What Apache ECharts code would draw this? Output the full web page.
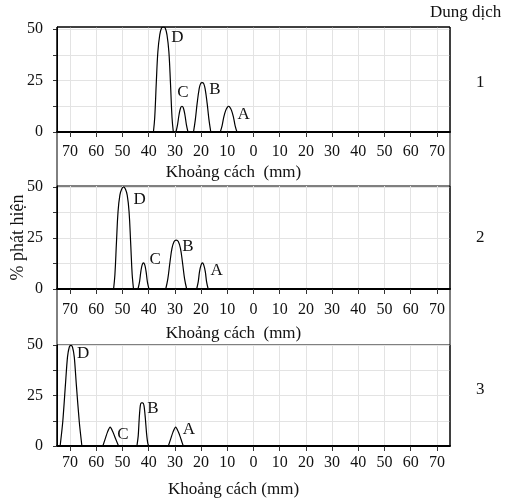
<!DOCTYPE html>
<html><head><meta charset="utf-8">
<script src="https://cdn.jsdelivr.net/npm/echarts@6/dist/echarts.min.js"></script>
<style>html,body{margin:0;padding:0;background:#fff}#c{width:515px;height:502px}</style>
</head><body><div id="c"></div>
<script>
// ---- data (distance in mm on the left side of origin, % detected) ----
const solutions = ['1', '2', '3'];
const legendTitle = 'Dung dịch';
const peakNames = ['A', 'B', 'C', 'D'];
const xTickValues = [-70, -60, -50, -40, -30, -20, -10, 0, 10, 20, 30, 40, 50, 60, 70];
const yTickValues = [0, 12.5, 25, 37.5, 50];
const yLabelValues = [0, 25, 50];
const xAxisTitles = ['Khoảng cách  (mm)', 'Khoảng cách  (mm)', 'Khoảng cách (mm)'];
const yAxisTitle = '% phát hiện';

// Solution 1
const p1A = [[12.7,0],[12.0,3],[11.3,7.5],[10.6,10.5],[10.0,12],[9.5,12.5],[9.0,12],[8.4,10.5],[7.7,7.5],[7.0,3],[6.3,0]];
const p1B = [[22.9,0],[22.2,6],[21.5,14],[20.8,20.5],[20.2,23.5],[19.6,24],[19.0,23.5],[18.4,20.5],[17.7,14],[17.0,6],[16.3,0]];
const p1C = [[29.6,0],[29.0,3.5],[28.4,8.5],[27.8,11.8],[27.3,12.5],[26.8,11.8],[26.2,8.5],[25.6,3.5],[25.0,0]];
const p1D = [[38.2,0],[37.7,7],[37.1,24],[36.5,39],[35.8,47],[35.1,50.5],[34.4,51],[33.7,50.5],[33.0,47],[32.3,39],[31.7,24],[31.1,7],[30.6,0]];
// Solution 2
const p2A = [[21.7,0],[21.1,3.5],[20.6,8.5],[20.0,11.8],[19.5,12.8],[19.0,11.8],[18.4,8.5],[17.9,3.5],[17.3,0]];
const p2B = [[33.5,0],[32.7,5],[31.9,13],[31.1,20],[30.3,23.3],[29.5,24],[28.7,23.3],[27.9,20],[27.1,13],[26.3,5],[25.5,0]];
const p2C = [[44.1,0],[43.5,3.5],[43.0,8.5],[42.5,11.8],[42.0,12.8],[41.5,11.8],[41.0,8.5],[40.5,3.5],[39.9,0]];
const p2D = [[53.4,0],[52.9,7],[52.3,23],[51.7,38],[51.0,46],[50.3,49],[49.6,50],[48.9,49],[48.2,46],[47.5,38],[46.9,23],[46.3,7],[45.8,0]];
// Solution 3
const p3A = [[32.5,0],[31.6,3.5],[30.7,7],[29.7,9.3],[28.7,7],[27.7,3.5],[26.8,0]];
const p3B = [[44.5,0],[44.0,5],[43.6,14],[43.2,20],[42.8,21.3],[42.3,21.3],[41.8,20],[41.3,14],[40.8,6],[40.3,1],[39.9,0]];
const p3C = [[57.5,0],[56.6,3.5],[55.7,7],[54.7,9.3],[53.7,7],[52.6,3.5],[51.5,0]];
const p3D = [[73.8,0],[72.8,12],[71.8,30],[71.0,44],[70.3,49],[69.7,49.8],[69.1,49],[68.4,44],[67.6,30],[66.5,12],[65.5,0]];

const panelPeaks = [[p1A, p1B, p1C, p1D], [p2A, p2B, p2C, p2D], [p3A, p3B, p3C, p3D]];

// ---- layout / style ----
const FONT = 'Liberation Serif';
const L = 57, R = 65;
const layout = [
  {top: 27, height: 105, yMax: 51, labelMargin: 12, nameGap: 32, smooth: 0.4, stripY: 83},
  {top: 186, height: 103, yMax: 50.5, labelMargin: 13, nameGap: 36, smooth: 0.4, stripY: 238},
  {top: 345, height: 101, yMax: 50, labelMargin: 9, nameGap: 35, smooth: 0.25, stripY: 390}
];
const peakLabelStyle = [
  [{p:'right', o:[4,8]}, {p:'right', o:[2,7]}, {p:'top', o:[1,0]}, {p:'right', o:[3,11]}],
  [{p:'right', o:[3,8]}, {p:'right', o:[1,6]}, {p:'right', o:[1,-3]}, {p:'right', o:[5,13]}],
  [{p:'right', o:[2,2]}, {p:'right', o:[1,6]}, {p:'right', o:[2,7]}, {p:'right', o:[1,8]}]
];

const grid = [], xAxis = [], yAxis = [], series = [], graphic = [];
layout.forEach((ly, i) => {
  grid.push({left: L, right: R, top: ly.top, height: ly.height, show: true,
    outerBoundsMode: 'none', containLabel: false,
    borderColor: '#000', borderWidth: 1, backgroundColor: 'transparent'});
  xAxis.push({
    type: 'value', gridIndex: i, min: -75, max: 75, inverse: true,
    name: xAxisTitles[i], nameLocation: 'middle', nameGap: ly.nameGap, nameMoveOverlap: false,
    nameTextStyle: {fontFamily: FONT, fontSize: 17, color: '#111', padding: [0, 40, 0, 0]},
    axisLine: {show: true, onZero: false, lineStyle: {color: '#000', width: 2}},
    axisTick: {show: true, customValues: xTickValues, length: 5, lineStyle: {color: '#333'}},
    axisLabel: {customValues: xTickValues, formatter: v => String(Math.abs(v)),
      fontFamily: FONT, fontSize: 16, color: '#111', margin: ly.labelMargin},
    splitLine: {show: true, lineStyle: {color: '#e3e3e3', width: 1}}
  });
  yAxis.push({
    type: 'value', gridIndex: i, min: 0, max: ly.yMax,
    name: i === 1 ? yAxisTitle : '', nameLocation: 'middle', nameGap: 30, nameMoveOverlap: false,
    nameTextStyle: {fontFamily: FONT, fontSize: 18, color: '#111'},
    axisLine: {show: true, onZero: false, lineStyle: {color: '#000', width: 1}},
    axisTick: {show: true, customValues: yTickValues, length: 4, lineStyle: {color: '#333'}},
    axisLabel: {customValues: yLabelValues, fontFamily: FONT, fontSize: 16, color: '#111', margin: 14},
    splitLine: {show: true, lineStyle: {color: '#e3e3e3', width: 1}}
  });
  panelPeaks[i].forEach((pts, k) => {
    let top = 0;
    pts.forEach((p, j) => { if (p[1] > pts[top][1]) top = j; });
    const st = peakLabelStyle[i][k];
    series.push({
      type: 'line', xAxisIndex: i, yAxisIndex: i, smooth: ly.smooth,
      symbol: 'circle', symbolSize: 0, showSymbol: true, silent: true,
      lineStyle: {color: '#000', width: 1.2}, itemStyle: {color: '#000'},
      data: pts.map((p, j) => j === top ? {value: p, label: {show: true, formatter: peakNames[k],
        position: st.p, offset: st.o, fontFamily: FONT, fontSize: 17, color: '#111'}} : p)
    });
  });
  graphic.push({type: 'text', left: 476, top: ly.stripY - 9,
    style: {text: solutions[i], font: '17px "' + FONT + '"', fill: '#111'}});
});
graphic.push({type: 'text', left: 430, top: 4,
  style: {text: legendTitle, font: '17px "' + FONT + '"', fill: '#111'}});
graphic.push({type: 'rect', shape: {x: L, y: 27, width: 515 - L - R, height: 419},
  style: {fill: 'none', stroke: '#000', lineWidth: 1}, silent: true, z: 10});

const chart = echarts.init(document.getElementById('c'), null, {renderer: 'canvas'});
chart.setOption({animation: false, backgroundColor: '#fff', grid, xAxis, yAxis, series, graphic});
</script></body></html>
